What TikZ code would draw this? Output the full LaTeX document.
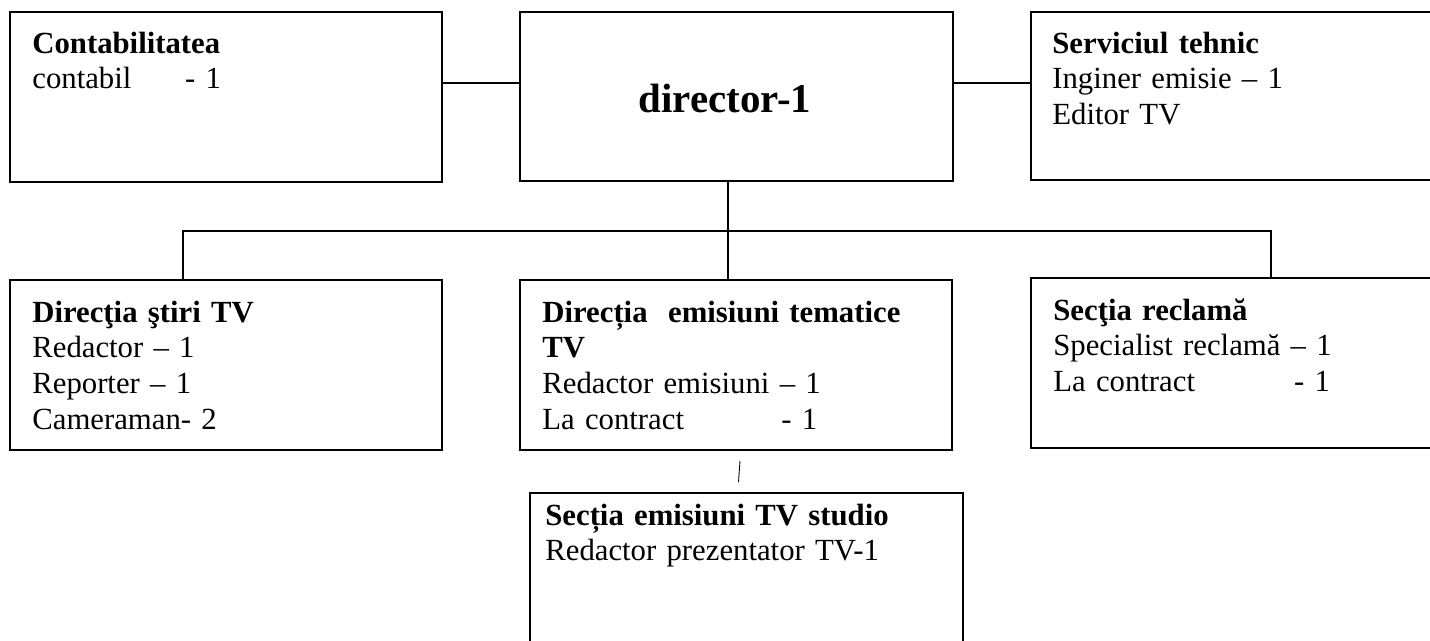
\documentclass[tikz,border=0pt]{standalone}
\usepackage{fontspec}
\setmainfont{Liberation Serif}
\usetikzlibrary{fit}

\tikzset{box/.style={draw, rectangle, inner sep=0pt, line width=0.9pt},
	txt/.style={anchor=base west, inner sep=0pt, align=left, text width=8cm, font=\fontsize{17.5}{20.4}\selectfont},
	link/.style={line width=0.8pt}}

\begin{document}
\begin{tikzpicture}[x=0.02cm, y=-0.02cm]
		\useasboundingbox (0,0) rectangle (1430,640);
		\clip (0,0) rectangle (1430,640);
		% Draw the boxes
		\node[box, fit={(10,12) (442,182)}] (cont) {};
		\node[box, fit={(520,12) (953,181)}] (dir) {};
		\node[box, fit={(1031,12) (1445,180)}] (serv) {};
		\node[box, fit={(10,280) (442,450)}] (stiri) {};
		\node[box, fit={(520,280) (952,450)}] (tem) {};
		\node[box, fit={(1031,278) (1445,448)}] (recl) {};
		\node[box, fit={(530,493) (963,660)}] (studio) {};
		
		% Draw the texts
		\node[txt] (contT) at (32,53) {\textbf{Contabilitatea}\\ \makebox[87pt][l]{contabil}- 1};
		\node[anchor=base, inner sep=0pt, font=\fontsize{23.3}{28}\selectfont\bfseries] (dirT) at (725,112) {director-1};
		\node[txt] (servT) at (1052,53) {\textbf{Serviciul tehnic}\\ Inginer emisie – 1\\ Editor TV};
		\node[txt] (stiriT) at (32,322) {\textbf{Direcţia ştiri TV}\\ Redactor – 1\\ Reporter – 1\\ Cameraman- 2};
		\node[txt] (temT) at (542,322) {\textbf{Direcția~ emisiuni tematice}\\ \textbf{TV}\\ Redactor emisiuni – 1\\ \makebox[136pt][l]{La contract}- 1};
		\node[txt] (reclT) at (1053,320) {\textbf{Secţia reclamă}\\ Specialist reclamă – 1\\ \makebox[137pt][l]{La contract}- 1};
		\node[txt] (studioT) at (545,525) {\textbf{Secția emisiuni TV studio}\\ Redactor prezentator TV-1};
		
		% Draw the edges
		\coordinate (top) at (0,83);
		\coordinate (dl) at (183,231);
		\coordinate (dc) at (728,231);
		\coordinate (dr) at (1271,231);
		\draw[link] (cont.east |- top) -- (dir.west |- top);
		\draw[link] (dir.east |- top) -- (serv.west |- top);
		\draw[link] (dir.south -| dc) -- (tem.north -| dc);
		\draw[link] (stiri.north -| dl) -- (dl) -- (dr) -- (recl.north -| dr);
		\draw[line width=0.5pt] ([shift={(4,10)}]tem.south) -- ([shift={(-8,-10)}]studio.north);
		
	\end{tikzpicture}
\end{document}
